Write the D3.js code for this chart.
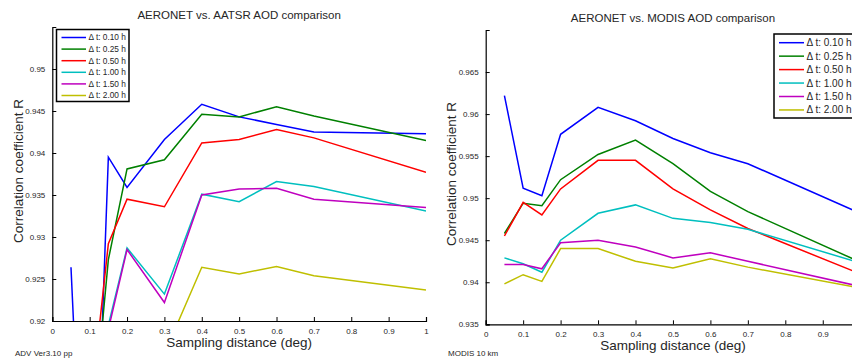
<!DOCTYPE html>
<html>
<head>
<meta charset="utf-8">
<script src="https://cdn.jsdelivr.net/npm/d3@7"></script>
<style>
  html, body { margin: 0; padding: 0; background: #fff; }
  svg { display: block; font-family: "Liberation Sans", Arial, sans-serif; }
</style>
</head>
<body>
<svg id="chart" width="852" height="358"></svg>
<script>
// sampling distances (deg), shared by both panels
const distance = [0.05, 0.1, 0.15, 0.2, 0.3, 0.4, 0.5, 0.6, 0.7, 1.0];
const legendLabels = ['\u0394 t: 0.10 h', '\u0394 t: 0.25 h', '\u0394 t: 0.50 h',
                      '\u0394 t: 1.00 h', '\u0394 t: 1.50 h', '\u0394 t: 2.00 h'];

// AERONET vs AATSR, correlation R per time window
const aatsr010 = [0.9264, 0.878, 0.9395, 0.9359, 0.9416, 0.9458, 0.9443, 0.9434, 0.9425, 0.9423];
const aatsr025 = [0.890, 0.9034, 0.9273, 0.9381, 0.9392, 0.9446, 0.9443, 0.9455, 0.9444, 0.9415];
const aatsr050 = [0.895, 0.9088, 0.9292, 0.9345, 0.9336, 0.9412, 0.9416, 0.9428, 0.9418, 0.9377];
const aatsr100 = [0.900, 0.905, 0.9195, 0.9287, 0.9232, 0.9351, 0.9342, 0.9366, 0.9360, 0.9331];
const aatsr150 = [0.899, 0.904, 0.9190, 0.9285, 0.9222, 0.9350, 0.9357, 0.9358, 0.9345, 0.9335];
const aatsr200 = [0.895, 0.897, 0.898, 0.905, 0.9161, 0.9264, 0.9256, 0.9265, 0.9254, 0.9237];

// AERONET vs MODIS
const modis010 = [0.9622, 0.9512, 0.9503, 0.9576, 0.9608, 0.9592, 0.9571, 0.9554, 0.9541, 0.9482];
const modis025 = [0.9458, 0.9494, 0.9491, 0.9522, 0.9552, 0.9569, 0.9541, 0.9508, 0.9484, 0.9424];
const modis050 = [0.9455, 0.9495, 0.9480, 0.9511, 0.9545, 0.9545, 0.9511, 0.9486, 0.9464, 0.9410];
const modis100 = [0.9429, 0.9422, 0.9412, 0.9450, 0.9482, 0.9492, 0.9476, 0.9471, 0.9463, 0.9423];
const modis150 = [0.9421, 0.9421, 0.9416, 0.9447, 0.9450, 0.9442, 0.9429, 0.9435, 0.9425, 0.9395];
const modis200 = [0.9398, 0.9409, 0.9401, 0.9440, 0.9440, 0.9425, 0.9417, 0.9428, 0.9418, 0.9393];

const aatsrXTicks = [0, 0.1, 0.2, 0.3, 0.4, 0.5, 0.6, 0.7, 0.8, 0.9, 1];
const modisXTicks = [0, 0.1, 0.2, 0.3, 0.4, 0.5, 0.6, 0.7, 0.8, 0.9]; // 1 falls off the page
const aatsrYTicks = [0.92, 0.925, 0.93, 0.935, 0.94, 0.945, 0.95];
const modisYTicks = [0.935, 0.94, 0.945, 0.95, 0.955, 0.96, 0.965];

const colors = ['#0000ff', '#008000', '#ff0000', '#00bfbf', '#bf00bf', '#bfbf00'];

const svg = d3.select('#chart');
const fmt = function(d) { return String(+d.toFixed(3)); };

function drawPanel(cfg) {
  const x = d3.scaleLinear().domain([0, 1]).range([cfg.left, cfg.right]);
  const y = d3.scaleLinear().domain(cfg.yDomain).range([cfg.bottom, cfg.top]);

  const g = svg.append('g');

  // clip so lines stop at the axes like matlab does
  svg.append('clipPath').attr('id', cfg.id + '-clip')
    .append('rect')
    .attr('x', cfg.left).attr('y', cfg.top)
    .attr('width', cfg.right - cfg.left).attr('height', cfg.bottom - cfg.top);

  const line = d3.line()
    .x(function(d, i) { return x(distance[i]); })
    .y(function(d) { return y(d); });

  const lines = g.append('g').attr('clip-path', 'url(#' + cfg.id + '-clip)');
  cfg.series.forEach(function(s, i) {
    lines.append('path')
      .attr('d', line(s))
      .attr('fill', 'none')
      .attr('stroke', colors[i])
      .attr('stroke-width', 1.5)
      .attr('stroke-linejoin', 'miter');
  });

  // axes, ticks inside
  const xAxis = d3.axisBottom(x).tickValues(cfg.xTicks).tickSize(-4).tickPadding(7)
    .tickFormat(function(d) { return String(d); });
  const yAxis = d3.axisLeft(y).tickValues(cfg.yTicks).tickSize(-4).tickPadding(7)
    .tickFormat(fmt);

  const gx = g.append('g').attr('transform', 'translate(0,' + cfg.bottom + ')').call(xAxis);
  const gy = g.append('g').attr('transform', 'translate(' + cfg.left + ',0)').call(yAxis);
  [gx, gy].forEach(function(a) {
    a.select('.domain').attr('stroke', '#000').attr('stroke-width', 1.2);
    a.selectAll('.tick line').attr('stroke', '#000');
    a.selectAll('.tick text').attr('font-size', '8px').attr('fill', '#262626')
      .attr('font-family', '"Liberation Sans", Arial, sans-serif');
  });

  // titles and labels
  g.append('text')
    .attr('x', (cfg.left + cfg.right) / 2).attr('y', cfg.titleY)
    .attr('text-anchor', 'middle').attr('font-size', '11.5px').attr('fill', '#262626')
    .text(cfg.title);

  g.append('text')
    .attr('x', (cfg.left + cfg.right) / 2).attr('y', cfg.bottom + 26)
    .attr('text-anchor', 'middle').attr('font-size', '13.5px').attr('fill', '#262626')
    .text('Sampling distance (deg)');

  g.append('text')
    .attr('transform', 'translate(' + cfg.yLabelX + ',' + cfg.yLabelY + ') rotate(-90)')
    .attr('text-anchor', 'middle').attr('font-size', '13.5px').attr('fill', '#262626')
    .text('Correlation coefficient R');

  g.append('text')
    .attr('x', cfg.noteX).attr('y', 356)
    .attr('font-size', '8px').attr('fill', '#262626')
    .text(cfg.note);

  // legend
  const lg = g.append('g').attr('transform', 'translate(' + cfg.legend.x + ',' + cfg.legend.y + ')');
  lg.append('rect')
    .attr('width', cfg.legend.w).attr('height', cfg.legend.h)
    .attr('fill', '#fff').attr('stroke', '#000').attr('stroke-width', 1.5);
  legendLabels.forEach(function(lab, i) {
    const ly = cfg.legend.first + i * cfg.legend.step;
    lg.append('line')
      .attr('x1', cfg.legend.lineX).attr('x2', cfg.legend.lineX + cfg.legend.lineW)
      .attr('y1', ly).attr('y2', ly)
      .attr('stroke', colors[i]).attr('stroke-width', 1.5);
    lg.append('text')
      .attr('x', cfg.legend.lineX + cfg.legend.lineW + 2.5).attr('y', ly)
      .attr('dy', '0.35em')
      .attr('font-size', cfg.legend.font).attr('fill', '#262626')
      .text(lab);
  });
}

drawPanel({
  id: 'aatsr',
  left: 52.3, right: 426, top: 27, bottom: 321,
  yDomain: [0.92, 0.955], xTicks: aatsrXTicks, yTicks: aatsrYTicks,
  series: [aatsr010, aatsr025, aatsr050, aatsr100, aatsr150, aatsr200],
  title: 'AERONET vs. AATSR AOD comparison', titleY: 19,
  yLabelX: 23, yLabelY: 171,
  note: 'ADV Ver3.10 pp', noteX: 15,
  legend: { x: 56.5, y: 29.5, w: 72.5, h: 72, first: 8, step: 11.6,
            lineX: 5, lineW: 24.5, font: '8.3px' }
});

drawPanel({
  id: 'modis',
  left: 485.7, right: 860.2, top: 30, bottom: 324.3,
  yDomain: [0.935, 0.97], xTicks: modisXTicks, yTicks: modisYTicks,
  series: [modis010, modis025, modis050, modis100, modis150, modis200],
  title: 'AERONET vs. MODIS AOD comparison', titleY: 22,
  yLabelX: 456, yLabelY: 174,
  note: 'MODIS 10 km', noteX: 448,
  legend: { x: 774, y: 34, w: 90, h: 84, first: 8.7, step: 13.45,
            lineX: 5, lineW: 25, font: '10px' }
});
</script>
</body>
</html>
